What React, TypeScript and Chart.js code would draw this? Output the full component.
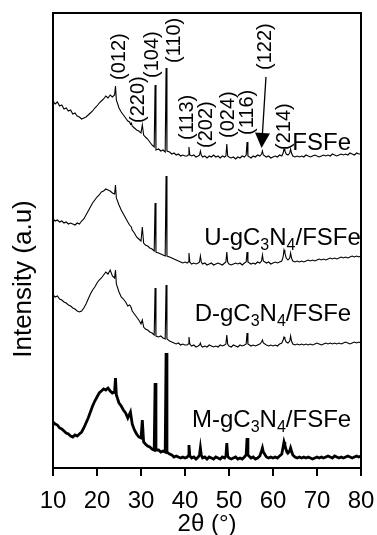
import React, { useEffect, useRef } from 'react';
import { Chart, registerables } from 'chart.js';

Chart.register(...registerables);

// 2θ sampling positions (degrees)
const twoTheta = [
  10, 10.5, 11, 11.5, 12, 12.5, 13, 13.5, 14, 14.5, 15, 15.5, 16, 16.5, 17, 17.5, 18, 18.5, 19, 19.5, 20, 20.5, 21, 21.5, 22, 22.5, 23, 23.5,
  24.0, 24.2, 24.4, 25, 25.5, 26, 26.5, 27, 27.4, 27.6, 27.8, 28, 28.5, 29, 29.5, 30, 30.3, 30.6, 31, 31.5, 32, 32.5, 33.0, 33.2, 33.4, 34, 34.5, 35, 35.5, 35.7, 35.9, 36.5, 37, 37.5, 38, 38.5, 39, 39.5, 40,
  40.5, 40.7, 40.9, 41.1, 41.5, 42, 42.5, 43, 43.3, 43.5, 43.7, 44, 44.5, 45, 45.5, 46, 46.5, 47, 47.5, 48, 48.5, 49, 49.3, 49.5, 49.7, 50,
  50.5, 51, 51.5, 52, 52.5, 53, 53.5, 53.9, 54.1, 54.3, 55, 55.5, 56, 56.5, 57, 57.4, 57.6, 57.8, 58.5, 59, 59.5, 60,
  60.5, 61, 61.5, 62, 62.3, 62.5, 62.7, 63, 63.4, 63.8, 64.0, 64.2, 64.5, 65,
  65.5, 66, 66.5, 67, 67.5, 68, 68.5, 69, 69.5, 70, 70.5, 71, 71.5, 72, 72.5, 73, 73.5, 74, 74.5, 75, 75.5, 76, 76.5, 77, 77.5, 78, 78.5, 79, 79.5, 80,
];

// Stacked intensities (a.u., offsets included as in the figure)
const fsfe = [
  367, 364, 366, 362, 363, 359, 360, 357, 358, 354, 355, 352, 351, 349, 350, 351, 353, 355, 357, 360, 362, 365, 367, 369, 372, 370, 373, 371,
  373, 382, 368, 360, 356, 353, 350, 347, 346, 344, 345, 342, 340, 338, 337, 335, 343, 333, 331, 329, 326, 323, 321, 383, 318, 319, 317, 318, 316, 400, 317, 316, 314, 315, 313, 314, 312, 313, 312,
  312, 313, 321, 313, 312, 313, 311, 312, 313, 317, 313, 311, 312, 310, 312, 311, 313, 311, 312, 310, 312, 311, 312, 324, 312, 311,
  310, 311, 309, 311, 310, 312, 311, 313, 326, 312, 310, 312, 311, 313, 312, 314, 317, 313, 311, 312, 310, 311,
  312, 311, 313, 312, 315, 319, 317, 314, 313, 315, 319, 315, 312, 311,
  312, 311, 312, 311, 313, 312, 311, 312, 313, 312, 311, 312, 313, 312, 313, 312, 314, 313, 312, 313, 314, 313, 314, 313, 315, 314, 313, 315, 314, 314,
];

const uFsfe = [
  249, 247, 248, 246, 247, 245, 246, 244, 245, 244, 243, 245, 244, 247, 249, 253, 257, 261, 265, 268, 271, 273, 276, 277, 279, 278, 277, 275,
  274, 283, 270, 263, 258, 254, 250, 246, 243, 242, 241, 238, 235, 231, 229, 227, 241, 225, 223, 222, 220, 219, 217, 265, 216, 215, 214, 213, 212, 292, 212, 211, 210, 209, 208, 207, 206, 205, 206,
  205, 206, 215, 206, 204, 205, 204, 205, 206, 212, 206, 204, 205, 203, 204, 205, 203, 204, 205, 204, 203, 205, 206, 216, 206, 204,
  203, 204, 205, 204, 205, 203, 205, 206, 216, 206, 204, 205, 204, 206, 205, 207, 213, 207, 205, 206, 204, 205,
  206, 205, 206, 207, 211, 218, 215, 210, 208, 210, 215, 210, 207, 206,
  207, 206, 207, 206, 207, 208, 207, 208, 207, 208, 209, 208, 209, 208, 209, 210, 209, 210, 209, 210, 211, 210, 211, 210, 211, 212, 211, 212, 211, 212,
];

const dFsfe = [
  173, 171, 172, 169, 168, 166, 165, 163, 162, 160, 159, 157, 156, 157, 160, 164, 169, 174, 178, 181, 185, 188, 190, 193, 196, 194, 198, 192,
  190, 198, 184, 176, 171, 169, 166, 162, 163, 162, 160, 157, 154, 151, 148, 144, 148, 141, 139, 138, 136, 135, 133, 180, 132, 131, 132, 130, 129, 183, 129, 127, 126, 125, 124, 125, 123, 124, 123,
  123, 124, 131, 124, 122, 123, 121, 122, 123, 125, 122, 121, 122, 121, 123, 122, 121, 122, 121, 123, 122, 123, 124, 133, 124, 122,
  121, 123, 122, 121, 123, 122, 123, 124, 135, 124, 122, 123, 122, 123, 124, 126, 128, 125, 123, 122, 123, 122,
  123, 122, 124, 125, 128, 131, 129, 126, 125, 127, 132, 127, 124, 123,
  124, 123, 124, 123, 124, 123, 124, 123, 124, 125, 124, 123, 124, 125, 124, 125, 124, 125, 124, 125, 124, 125, 126, 125, 124, 125, 126, 125, 126, 125,
];

const mFsfe = [
  46, 44, 43, 40, 39, 37, 35, 34, 32, 31, 33, 32, 34, 36, 40, 45, 50, 56, 62, 67, 71, 75, 77, 79, 78, 80, 77, 75,
  76, 90, 73, 65, 62, 58, 55, 50, 54, 56, 50, 44, 38, 34, 31, 30, 48, 26, 24, 22, 21, 19, 18, 85, 18, 18, 16, 17, 16, 115, 16, 14, 13, 11, 12, 11, 10, 11, 10,
  11, 12, 23, 12, 10, 11, 9, 11, 13, 20, 13, 10, 11, 9, 11, 10, 9, 11, 10, 9, 11, 10, 12, 25, 12, 10,
  9, 10, 11, 9, 10, 9, 11, 13, 30, 13, 10, 11, 9, 10, 12, 17, 20, 16, 11, 10, 11, 10,
  11, 10, 12, 14, 21, 26, 23, 18, 15, 17, 20, 17, 13, 11,
  10, 11, 10, 11, 10, 11, 10, 9, 10, 11, 10, 11, 10, 11, 12, 11, 10, 12, 11, 10, 11, 10, 11, 12, 11, 10, 11, 12, 11, 12,
];

const xTickValues = [10, 20, 30, 40, 50, 60, 70, 80];

// Miller index labels
const peakLabels = ['(012)', '(220)', '(104)', '(110)', '(113)', '(202)', '(024)', '(116)', '(122)', '(214)'];

// Sample names: [prefix, sub1, mid, sub2, suffix]
const sampleNames = [
  ['FSFe', '', '', '', ''],
  ['U-gC', '3', 'N', '4', '/FSFe'],
  ['D-gC', '3', 'N', '4', '/FSFe'],
  ['M-gC', '3', 'N', '4', '/FSFe'],
];

// ---- annotation placement (in data units) ----
const peakLabelX = [25.2, 29.5, 32.6, 37.6, 40.6, 44.9, 49.8, 54.3, 58.3, 62.5];
const peakLabelBase = [388, 345, 390, 405, 328, 320, 330, 333, 398, 318];
const sampleNameX = [64.4, 44.4, 42.2, 41.6];
const sampleNameY = [318, 223, 147, 41];

const FONT = '"Liberation Sans", Arial, Helvetica, sans-serif';

const annotations = {
  id: 'xrdAnnotations',
  afterDraw(chart: any) {
    const { ctx, chartArea: a, scales } = chart;
    const xs = scales.x;
    const ys = scales.y;
    ctx.save();
    // frame
    ctx.strokeStyle = '#000';
    ctx.lineWidth = 2;
    ctx.beginPath();
    ctx.moveTo(a.left, a.top);
    ctx.lineTo(a.right, a.top);
    ctx.lineTo(a.right, a.bottom);
    ctx.lineTo(a.left, a.bottom);
    ctx.closePath();
    ctx.stroke();

    ctx.fillStyle = '#000';
    // y title
    ctx.save();
    ctx.font = `26px ${FONT}`;
    ctx.translate(24, 279);
    ctx.rotate(-Math.PI / 2);
    ctx.textAlign = 'center';
    ctx.textBaseline = 'middle';
    ctx.fillText('Intensity (a.u)', 0, 0);
    ctx.restore();

    // peak labels
    ctx.font = `20px ${FONT}`;
    peakLabels.forEach((t, i) => {
      ctx.save();
      ctx.translate(xs.getPixelForValue(peakLabelX[i]), ys.getPixelForValue(peakLabelBase[i]));
      ctx.rotate(-Math.PI / 2);
      ctx.textAlign = 'left';
      ctx.textBaseline = 'middle';
      ctx.fillText(t, 0, 0);
      ctx.restore();
    });

    // arrow for (122)
    const x0 = xs.getPixelForValue(58.4), y0 = ys.getPixelForValue(391);
    const x1 = xs.getPixelForValue(57.4), y1 = ys.getPixelForValue(320);
    const ang = Math.atan2(y1 - y0, x1 - x0);
    const hl = 15, hw = 7.5;
    const bx = x1 - hl * Math.cos(ang), by = y1 - hl * Math.sin(ang);
    ctx.lineWidth = 1.3;
    ctx.beginPath();
    ctx.moveTo(x0, y0);
    ctx.lineTo(bx, by);
    ctx.stroke();
    ctx.beginPath();
    ctx.moveTo(x1, y1);
    ctx.lineTo(bx + hw * Math.sin(ang), by - hw * Math.cos(ang));
    ctx.lineTo(bx - hw * Math.sin(ang), by + hw * Math.cos(ang));
    ctx.closePath();
    ctx.fill();

    // sample names
    ctx.textAlign = 'left';
    ctx.textBaseline = 'alphabetic';
    sampleNames.forEach((parts, i) => {
      let x = xs.getPixelForValue(sampleNameX[i]);
      const y = ys.getPixelForValue(sampleNameY[i]);
      parts.forEach((p, j) => {
        if (!p) return;
        const sub = j === 1 || j === 3;
        ctx.font = sub ? `16px ${FONT}` : `24px ${FONT}`;
        ctx.fillText(p, x, sub ? y + 5 : y);
        x += ctx.measureText(p).width;
      });
    });
    ctx.restore();
  },
};

export default function App() {
  const ref = useRef<HTMLCanvasElement | null>(null);
  useEffect(() => {
    if (!ref.current) return;
    const mk = (d: number[], w: number) => ({
      data: twoTheta.map((x, i) => ({ x, y: d[i] })),
      borderColor: '#000',
      borderWidth: w,
      pointRadius: 0,
      fill: false,
      tension: 0,
    });
    const chart = new Chart(ref.current, {
      type: 'line',
      data: {
        datasets: [mk(fsfe, 1.1), mk(uFsfe, 1.1), mk(dFsfe, 1.1), mk(mFsfe, 2.8)],
      },
      options: {
        responsive: false,
        animation: false,
        layout: { padding: { top: 13, right: 16, left: 0, bottom: 0 } },
        plugins: { legend: { display: false }, tooltip: { enabled: false } },
        scales: {
          x: {
            type: 'linear',
            min: 10,
            max: 80,
            afterBuildTicks: (s: any) => {
              s.ticks = xTickValues.map((v) => ({ value: v }));
            },
            ticks: { color: '#000', font: { family: FONT, size: 24 }, padding: 11, maxRotation: 0, autoSkip: false },
            grid: { drawOnChartArea: false, drawTicks: true, tickLength: 8, tickWidth: 2, tickColor: '#000', color: '#000', lineWidth: 2 },
            border: { display: false },
            title: { display: true, text: '2θ (°)', color: '#000', font: { family: FONT, size: 24 }, padding: { top: 0, bottom: -4 } },
            afterFit: (s: any) => {
              s.height = 67;
              s.paddingLeft = 0;
              s.paddingRight = 0;
              s.paddingTop = 0;
              s.paddingBottom = 0;
            },
          },
          y: {
            min: 0,
            max: 455,
            ticks: { display: false },
            grid: { display: false },
            border: { display: false },
            afterFit: (s: any) => {
              s.width = 53;
              s.paddingLeft = 0;
              s.paddingRight = 0;
              s.paddingTop = 0;
              s.paddingBottom = 0;
            },
          },
        },
      },
      plugins: [annotations],
    });
    return () => chart.destroy();
  }, []);
  return (
    <div style={{ position: 'absolute', left: 0, top: 0, width: 377, height: 535, background: '#fff' }}>
      <canvas ref={ref} width={377} height={535} style={{ width: 377, height: 535 }} />
    </div>
  );
}
